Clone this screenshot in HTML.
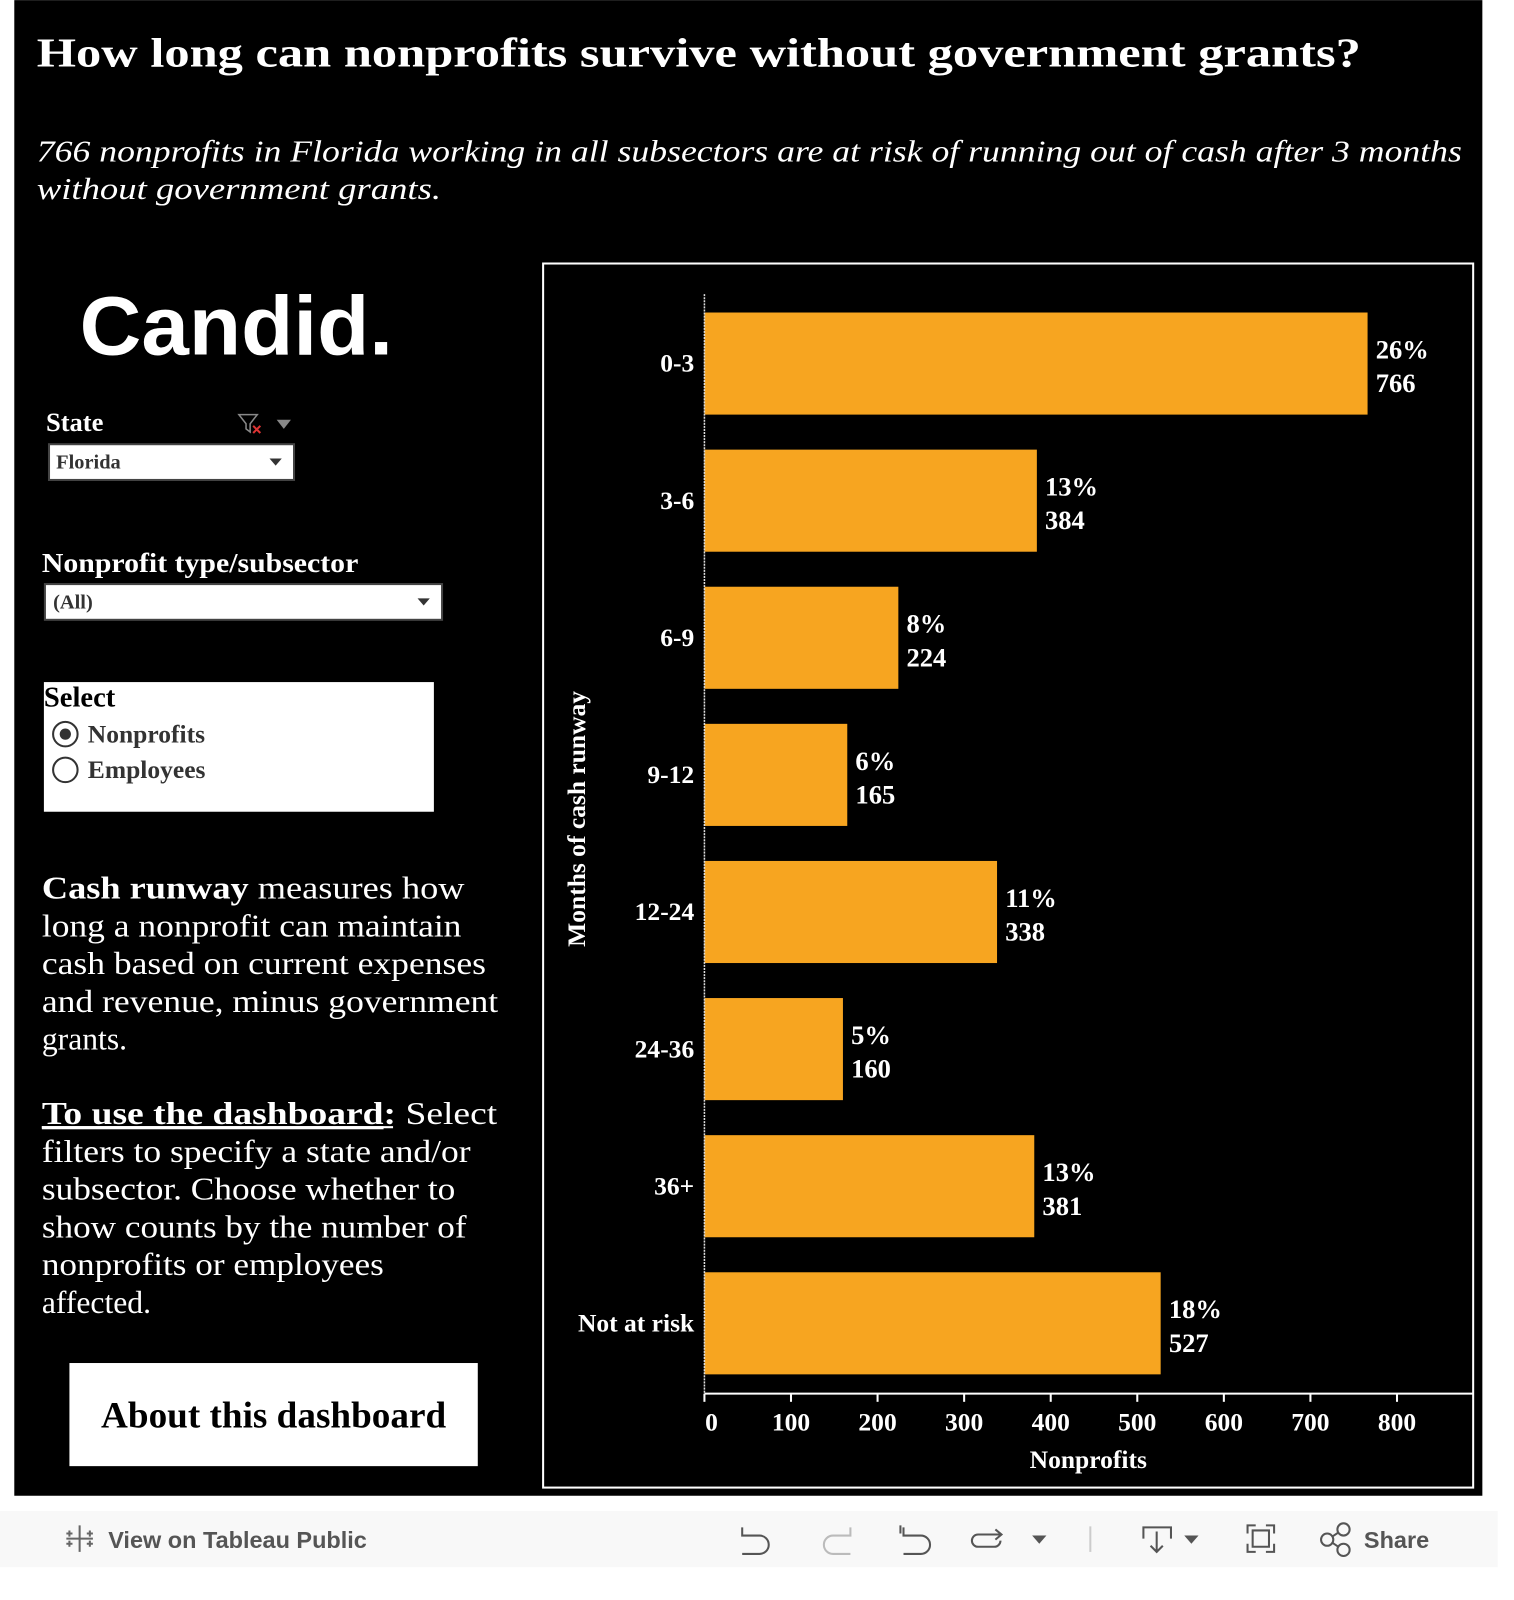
<!DOCTYPE html>
<html><head><meta charset="utf-8">
<style>
html,body{margin:0;padding:0;background:#fff;}
svg{display:block;}
.serif{font-family:"Liberation Serif",serif;}
.sans{font-family:"Liberation Sans",sans-serif;}
</style></head>
<body>
<svg id="root" width="1514" height="1600" viewBox="0 0 1483 1567" xmlns="http://www.w3.org/2000/svg">
  <rect x="14" y="0" width="1438" height="1465" fill="#000"/>
  <text class="serif" x="36" y="65" font-size="40" font-weight="bold" fill="#fff" textLength="1297" lengthAdjust="spacingAndGlyphs">How long can nonprofits survive without government grants?</text>
  <text class="serif" x="36" y="158" font-size="30" font-style="italic" fill="#fff" textLength="1396" lengthAdjust="spacingAndGlyphs">766 nonprofits in Florida working in all subsectors are at risk of running out of cash after 3 months</text>
  <text class="serif" x="36" y="195" font-size="30" font-style="italic" fill="#fff" textLength="396" lengthAdjust="spacingAndGlyphs">without government grants.</text>

  <text class="sans" x="78" y="347" font-size="82" font-weight="bold" fill="#fff" textLength="307" lengthAdjust="spacingAndGlyphs">Candid.</text>

  <text class="serif" x="45" y="422" font-size="26" font-weight="bold" fill="#fff">State</text>
  <g>
    <path d="M234 406 L252 406 L245 415 L245 423 L241 420 L241 415 Z" fill="none" stroke="#888" stroke-width="1.5"/>
    <path d="M248 417 L255 424 M255 417 L248 424" stroke="#d33" stroke-width="2"/>
  </g>
  <path d="M271 411 L285 411 L278 420 Z" fill="#888"/>
  <g>
    <rect x="48" y="435" width="240" height="35" fill="#fff" stroke="#444" stroke-width="2"/>
    <text class="serif" x="55" y="459" font-size="20" font-weight="bold" fill="#333">Florida</text>
    <path d="M264 449 L276 449 L270 456 Z" fill="#333"/>
  </g>

  <text class="serif" x="41" y="560" font-size="27" font-weight="bold" fill="#fff" textLength="310" lengthAdjust="spacingAndGlyphs">Nonprofit type/subsector</text>
  <g>
    <rect x="44" y="572" width="389" height="35" fill="#fff" stroke="#444" stroke-width="2"/>
    <text class="serif" x="52" y="596" font-size="20" font-weight="bold" fill="#333">(All)</text>
    <path d="M409 586 L421 586 L415 593 Z" fill="#333"/>
  </g>

  <rect x="43" y="668" width="382" height="127" fill="#fff"/>
  <text class="serif" x="43" y="692" font-size="28" font-weight="bold" fill="#000">Select</text>
  <g>
    <circle cx="64" cy="719" r="12" fill="#fff" stroke="#333" stroke-width="2"/>
    <circle cx="64" cy="719" r="5.5" fill="#333"/>
    <text class="serif" x="86" y="727" font-size="25" font-weight="bold" fill="#333">Nonprofits</text>
  </g>
  <g>
    <circle cx="64" cy="754" r="12" fill="#fff" stroke="#333" stroke-width="2"/>
    <text class="serif" x="86" y="762" font-size="25" font-weight="bold" fill="#333">Employees</text>
  </g>

  <g class="serif" font-size="31" fill="#fff">
    <text x="41" y="880" textLength="414" lengthAdjust="spacingAndGlyphs"><tspan font-weight="bold">Cash runway</tspan> measures how</text>
    <text x="41" y="917" textLength="411" lengthAdjust="spacingAndGlyphs">long a nonprofit can maintain</text>
    <text x="41" y="954" textLength="435" lengthAdjust="spacingAndGlyphs">cash based on current expenses</text>
    <text x="41" y="991" textLength="447" lengthAdjust="spacingAndGlyphs">and revenue, minus government</text>
    <text x="41" y="1028">grants.</text>
  </g>
  <g class="serif" font-size="31" fill="#fff">
    <text x="41" y="1101" textLength="446" lengthAdjust="spacingAndGlyphs"><tspan font-weight="bold" text-decoration="underline">To use the dashboard</tspan><tspan font-weight="bold">:</tspan> Select</text>
    <line x1="41" y1="1104" x2="385" y2="1104" stroke="#fff" stroke-width="2"/>
    <text x="41" y="1138" textLength="420" lengthAdjust="spacingAndGlyphs">filters to specify a state and/or</text>
    <text x="41" y="1175" textLength="405" lengthAdjust="spacingAndGlyphs">subsector. Choose whether to</text>
    <text x="41" y="1212" textLength="416" lengthAdjust="spacingAndGlyphs">show counts by the number of</text>
    <text x="41" y="1249" textLength="335" lengthAdjust="spacingAndGlyphs">nonprofits or employees</text>
    <text x="41" y="1286">affected.</text>
  </g>

  <g>
    <rect x="68" y="1335" width="400" height="101" fill="#fff"/>
    <text class="serif" x="99" y="1398" font-size="36" font-weight="bold" fill="#000" textLength="338" lengthAdjust="spacingAndGlyphs">About this dashboard</text>
  </g>

  <rect x="532" y="258" width="911" height="1199" fill="none" stroke="#fff" stroke-width="2"/>
  <g id="chart"></g>

  <rect x="0" y="1480" width="1467" height="55" fill="#f8f8f8"/>
  <g>
    <g stroke="#666" stroke-width="2">
      <path d="M78 1494 V1520 M65 1507 H91"/>
      <path d="M68 1499 V1505 M65 1502 H71 M88 1499 V1505 M85 1502 H91 M68 1509 V1515 M65 1512 H71 M88 1509 V1515 M85 1512 H91"/>
    </g>
    <text class="sans" x="106" y="1516" font-size="23" font-weight="bold" fill="#555">View on Tableau Public</text>
  </g>
  <g fill="none" stroke="#555" stroke-width="2">
    <path d="M727 1496 V1504 H744 A9 9 0 0 1 744 1522 H727"/>
    <path d="M833 1496 V1504 H816 A9 9 0 0 0 816 1522 H833" stroke="#bbb"/>
    <path d="M882 1494 V1502 M885 1496 V1504 H902 A9 9 0 0 1 902 1522 H885"/>
    <path d="M975 1498 L981 1503 L975 1508 M981 1503 H958 A6 6 0 0 0 958 1515 H974 A6 6 0 0 0 980 1509"/>
    <line x1="1068" y1="1495" x2="1068" y2="1520" stroke="#ccc"/>
    <path d="M1120 1507 V1496 H1147 V1507 M1133 1500 V1520 M1127 1514 L1133 1520 L1139 1514"/>
    <path d="M1222 1502 V1494 H1230 M1240 1494 H1248 V1502 M1248 1512 V1520 H1240 M1230 1520 H1222 V1512 M1227 1499 H1243 V1515 H1227 Z"/>
    <g><circle cx="1300" cy="1508" r="6"/><circle cx="1316" cy="1498" r="6"/><circle cx="1316" cy="1518" r="6"/><path d="M1305 1505 L1311 1501 M1305 1511 L1311 1515"/></g>
  </g>
  <path d="M1011 1504 L1025 1504 L1018 1512 Z" fill="#555"/>
  <path d="M1160 1504 L1174 1504 L1167 1512 Z" fill="#555"/>
  <text class="sans" x="1336" y="1516" font-size="23" font-weight="bold" fill="#555">Share</text>
</svg>
<script>
const categories = ["0-3","3-6","6-9","9-12","12-24","24-36","36+","Not at risk"];
const counts = [766,384,224,165,338,160,381,527];
const percents = ["26%","13%","8%","6%","11%","5%","13%","18%"];
const ticks = [0,100,200,300,400,500,600,700,800];

const NS = "http://www.w3.org/2000/svg";
const g = document.getElementById("chart");
const X0 = 690, XPER = 0.848, Y0 = 306, BAND = 134.3, BH = 100, AXISY = 1365;
function xScale(v){ return X0 + v * XPER; }
function yScale(i){ return Y0 + i * BAND; }
function mk(tag, attrs, text){
  const e = document.createElementNS(NS, tag);
  for (const k in attrs) e.setAttribute(k, attrs[k]);
  if (text !== undefined) e.textContent = text;
  g.appendChild(e);
  return e;
}
const font = '"Liberation Serif", serif';

categories.forEach((c, i) => {
  const y = yScale(i), mid = y + BH/2, xe = xScale(counts[i]);
  const bar = mk("rect", {x: X0, y: y, width: xe - X0, height: BH, fill: "#F7A520"});
  
  
  const lab = mk("text", {x: 680, y: mid + 8, "text-anchor": "end", "font-family": font, "font-size": 25, "font-weight": "bold", fill: "#fff"}, c);
  
  
  const p = mk("text", {x: xe + 8, y: mid - 5, "font-family": font, "font-size": 26, "font-weight": "bold", fill: "#fff"}, percents[i]);
  
  
  const v = mk("text", {x: xe + 8, y: mid + 28, "font-family": font, "font-size": 26, "font-weight": "bold", fill: "#fff"}, String(counts[i]));
  
  
});

const yAxis = mk("line", {x1: X0, y1: 288, x2: X0, y2: AXISY, stroke: "#ddd", "stroke-width": 1.5, "stroke-dasharray": "2 1"});


const xAxis = mk("line", {x1: X0, y1: AXISY, x2: 1443, y2: AXISY, stroke: "#fff", "stroke-width": 2});



ticks.forEach(t => {
  const x = xScale(t);
  const tk = mk("line", {x1: x, y1: AXISY, x2: x, y2: AXISY + 8, stroke: "#fff", "stroke-width": 2});
  
  
  const tl = mk("text", {x: t === 0 ? x + 7 : x, y: 1401, "text-anchor": "middle", "font-family": font, "font-size": 25, "font-weight": "bold", fill: "#fff"}, String(t));
  
  
});

const xt = mk("text", {x: 1066, y: 1438, "text-anchor": "middle", "font-family": font, "font-size": 25, "font-weight": "bold", fill: "#fff"}, "Nonprofits");


const yt = mk("text", {x: 0, y: 0, transform: "translate(573 802) rotate(-90)", "text-anchor": "middle", "font-family": font, "font-size": 25, "font-weight": "bold", fill: "#fff"}, "Months of cash runway");


</script>
</body></html>
